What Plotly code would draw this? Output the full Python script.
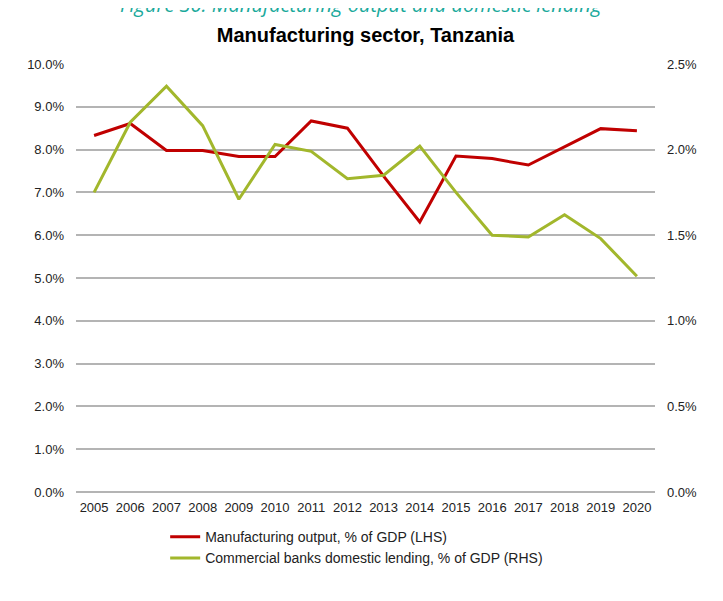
import plotly.graph_objects as go

# data
years = [str(y) for y in range(2005, 2021)]
manufacturing_output = [8.33, 8.61, 7.98, 7.98, 7.84, 7.84, 8.67, 8.50,
                        7.38, 6.31, 7.85, 7.79, 7.64, 8.06, 8.49, 8.44]
domestic_lending = [1.75, 2.16, 2.37, 2.14, 1.71, 2.03, 1.99, 1.83,
                    1.85, 2.02, 1.75, 1.50, 1.49, 1.62, 1.48, 1.26]

fig = go.Figure()
fig.add_trace(go.Scatter(x=years, y=manufacturing_output, mode='lines',
                         name='Manufacturing output, % of GDP (LHS)',
                         line=dict(color='#c00000', width=3)))
fig.add_trace(go.Scatter(x=years, y=domestic_lending, mode='lines', yaxis='y2',
                         name='Commercial banks domestic lending, % of GDP (RHS)',
                         line=dict(color='#a2b72c', width=3)))

axis_font = dict(family='Liberation Sans, Arial', size=13, color='#222222')

# the page body adds 8px on the left and top, so margins are offset for that
fig.update_layout(
    width=723, height=601,
    margin=dict(l=68, r=76, t=56, b=117, autoexpand=False),
    paper_bgcolor='white', plot_bgcolor='white',
    title=dict(text='<b>Manufacturing sector, Tanzania</b>', x=0.5 - 4 / 723, xanchor='center',
               y=1 - 27 / 601, yanchor='middle',
               font=dict(family='Liberation Sans, Arial', size=20, color='black')),
    xaxis=dict(type='category', range=[-0.5, 15.5], showgrid=False, showline=False,
               ticks='', tickfont=axis_font, ticklabelstandoff=6, automargin=False),
    yaxis=dict(range=[0, 10], dtick=1, tickformat='.1f', ticksuffix='%',
               showgrid=True, gridcolor='#b4b4b4', gridwidth=1.5,
               zeroline=True, zerolinecolor='#b4b4b4', zerolinewidth=1.5,
               tickfont=axis_font, ticks='', showline=False,
               ticklabelstandoff=11, automargin=False),
    yaxis2=dict(range=[0, 2.5], dtick=0.5, tickformat='.1f', ticksuffix='%',
                overlaying='y', side='right', showgrid=False, zeroline=False,
                tickfont=axis_font, ticks='', showline=False,
                ticklabelstandoff=11, automargin=False),
    legend=dict(x=0.154, y=-0.068, xanchor='left', yanchor='top',
                font=dict(family='Liberation Sans, Arial', size=14, color='#222222'),
                tracegroupgap=5, itemwidth=30),
    showlegend=True,
)

# caption above the chart, cut off by the top edge
fig.add_annotation(text='<i>Figure 30: Manufacturing output and domestic lending</i>',
                   xref='paper', yref='paper', x=0.492, y=1.138, xanchor='center',
                   yanchor='middle', showarrow=False,
                   font=dict(family='Open Sans', size=20, color='#1aa99b'))

fig.write_html("out.html")
